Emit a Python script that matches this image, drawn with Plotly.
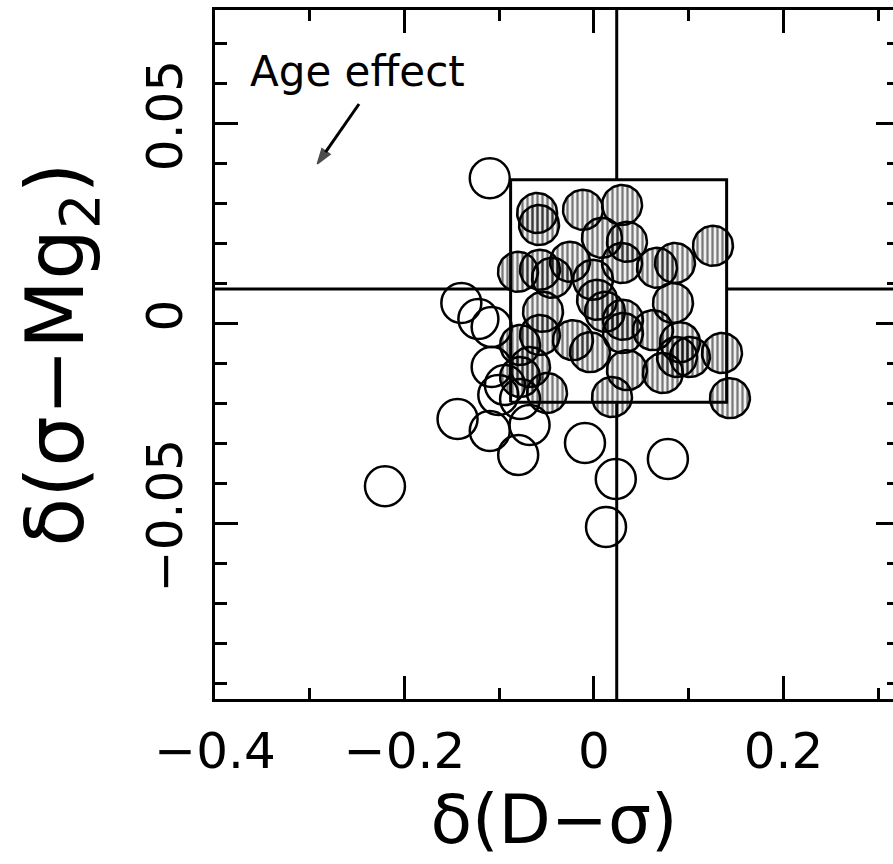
import numpy as np
import plotly.graph_objects as go

# Galaxies outside the selection box (open symbols)
open_x = [-0.110, -0.140, -0.122, -0.108, -0.108, -0.094, -0.101, -0.144, -0.110,
          -0.080, -0.068, -0.078, -0.0095, 0.023, 0.078, 0.0127, -0.2206]
open_y = [0.0362, 0.0050, 0.0010, -0.0010, -0.0110, -0.0155, -0.0180, -0.0240, -0.0270,
          -0.0330, -0.0255, -0.0190, -0.0300, -0.0390, -0.0340, -0.0510, -0.0408]

# Galaxies inside the selection box (hatched symbols)
hatch_x = [-0.060, -0.058, -0.0116, 0.0296, 0.0084, 0.0348, 0.1256, 0.0296, 0.0665,
           0.0855, -0.0802, -0.057, -0.0253, -0.0443, -0.001, 0.0834, -0.0538, 0.0032,
           0.0116, 0.0306, 0.0306, 0.0623, -0.0222, -0.0042, -0.057, 0.0908, 0.0876,
           0.1351, -0.078, -0.0675, 0.0348, 0.0728, 0.019, -0.0496, 0.1435, -0.078, 0.1013]
hatch_y = [0.0275, 0.0245, 0.0283, 0.0295, 0.0213, 0.0203, 0.0193, 0.0150, 0.0138,
           0.0150, 0.0128, 0.0133, 0.0153, 0.0113, 0.0108, 0.0050, 0.0028, 0.0058,
           0.0028, 0.0008, -0.0025, -0.0018, -0.0043, -0.0073, -0.0030, -0.0048, -0.0085,
           -0.0075, -0.0055, -0.0110, -0.0118, -0.0125, -0.0185, -0.0175, -0.0188, -0.0135, -0.0085]

# Reference cross and selection box
cross_x = 0.024
cross_y = 0.0085
box_x = [-0.088, 0.140]
box_y = [-0.0198, 0.0358]

# Age-effect vector (tail -> head)
age_x = [-0.248, -0.292]
age_y = [0.05475, 0.03975]

x_range = [-0.4, 0.3156]
y_range = [-0.094, 0.07825]

W, H = 893, 864
M = dict(l=215, r=0, t=10, b=165)
SYM_D = 40  # symbol diameter, px

px_per_x = (W - M["l"] - M["r"]) / (x_range[1] - x_range[0])
px_per_y = (H - M["t"] - M["b"]) / (y_range[1] - y_range[0])
rx = SYM_D / 2 / px_per_x
ry = SYM_D / 2 / px_per_y
theta = np.linspace(0, 2 * np.pi, 61)

fig = go.Figure()

# cross lines, drawn only outside the box
line_style = dict(color="black", width=3)
fig.add_trace(go.Scatter(x=[cross_x, cross_x, None, cross_x, cross_x],
                         y=[y_range[1], box_y[1], None, box_y[0], y_range[0]],
                         mode="lines", line=line_style, hoverinfo="skip"))
fig.add_trace(go.Scatter(x=[x_range[0], box_x[0], None, box_x[1], x_range[1]],
                         y=[cross_y, cross_y, None, cross_y, cross_y],
                         mode="lines", line=line_style, hoverinfo="skip"))
fig.add_trace(go.Scatter(x=[box_x[0], box_x[1], box_x[1], box_x[0], box_x[0]],
                         y=[box_y[0], box_y[0], box_y[1], box_y[1], box_y[0]],
                         mode="lines", line=line_style, hoverinfo="skip"))

# hatched circles
for cx, cy in zip(hatch_x, hatch_y):
    fig.add_trace(go.Scatter(
        x=cx + rx * np.cos(theta), y=cy + ry * np.sin(theta),
        mode="lines", fill="toself",
        fillpattern=dict(shape="|", fgcolor="black", bgcolor="rgba(0,0,0,0.06)",
                         size=5, solidity=0.45),
        line=dict(color="black", width=2.5), hoverinfo="skip"))

# open circles
fig.add_trace(go.Scatter(x=open_x, y=open_y, mode="markers",
                         marker=dict(symbol="circle-open", size=SYM_D, color="black",
                                     line=dict(width=2.5))))

# age-effect arrow
fig.add_trace(go.Scatter(x=age_x, y=age_y, mode="lines+markers",
                         line=dict(color="black", width=3),
                         marker=dict(symbol=["circle", "arrow"], size=[0, 16],
                                     angleref="previous", color="black",
                                     line=dict(color="black", width=1.5)),
                         hoverinfo="skip"))

# right-hand ticks without a spine
fig.add_trace(go.Scatter(x=[None], y=[None], yaxis="y2", hoverinfo="skip"))

fig.add_annotation(x=-0.25, y=0.063, text="Age effect", showarrow=False,
                   font=dict(size=42, color="black"))

font = "DejaVu Sans"
fig.update_layout(
    width=W, height=H, margin=M, showlegend=False,
    plot_bgcolor="white", paper_bgcolor="white",
    font=dict(family=font, color="black"),
    xaxis=dict(range=x_range, showgrid=False, zeroline=False,
               showline=True, linewidth=3, linecolor="black", mirror="ticks",
               ticks="inside", ticklen=23, tickwidth=3, tickcolor="black",
               tickvals=[-0.4, -0.2, 0, 0.2], ticktext=["\u22120.4", "\u22120.2", "0", "0.2"],
               minor=dict(tickvals=[-0.3, -0.1, 0.1, 0.3], ticks="inside", ticklen=11,
                          tickwidth=3, tickcolor="black"),
               tickfont=dict(size=50), ticklabelstandoff=6,
               title=dict(text="\u03b4(D\u2212\u03c3)", font=dict(size=68), standoff=10)),
    yaxis=dict(range=y_range, showgrid=False, zeroline=False,
               showline=True, linewidth=3, linecolor="black",
               ticks="inside", ticklen=23, tickwidth=3, tickcolor="black",
               tickvals=[-0.05, 0, 0.05], ticktext=["\u22120.05", "0", "0.05"],
               tickangle=-90,
               minor=dict(dtick=0.01, tick0=0, ticks="inside", ticklen=12,
                          tickwidth=3, tickcolor="black"),
               tickfont=dict(size=50), ticklabelstandoff=10,
               title=dict(text="\u03b4(\u03c3\u2212Mg<sub>2</sub>)", font=dict(size=80), standoff=27)),
    yaxis2=dict(range=y_range, overlaying="y", side="right", showgrid=False,
                zeroline=False, showline=False, showticklabels=False,
                ticks="inside", ticklen=17, tickwidth=3, tickcolor="black",
                tickvals=[-0.05, 0, 0.05],
                minor=dict(dtick=0.01, tick0=0, ticks="inside", ticklen=6,
                           tickwidth=3, tickcolor="black")),
)

fig.write_html("out.html")
